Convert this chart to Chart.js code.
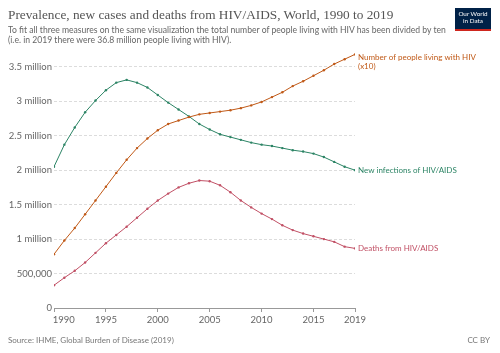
<!DOCTYPE html>
<html>
<head>
<meta charset="utf-8">
<script src="https://cdn.jsdelivr.net/npm/chart.js@4/dist/chart.umd.min.js"></script>
<style>
  html, body { margin: 0; padding: 0; background: #fff; }
  #wrap { position: relative; width: 500px; height: 353px; overflow: hidden; }
  #chart { position: absolute; left: 0; top: 0; }
  .title { position: absolute; left: 8px; top: 7px; font-family: "Liberation Serif", serif; font-size: 13.3px; color: #555; white-space: nowrap; }
  .sub { position: absolute; left: 8px; top: 24.5px; font-family: Lato, sans-serif; font-size: 8.6px; line-height: 10.5px; color: #666; white-space: nowrap; }
  .logo { position: absolute; left: 455px; top: 8px; width: 36px; height: 19px; background: #002147; border-bottom: 2px solid #ce261e; color: #fff; font-family: Lato, sans-serif; font-size: 6.3px; line-height: 7px; text-align: center; padding-top: 2px; box-sizing: content-box; }
  .foot { position: absolute; top: 335px; font-family: Lato, sans-serif; font-size: 8px; color: #777; }
</style>
</head>
<body>
<div id="wrap">
  <canvas id="chart" width="500" height="353"></canvas>
  <div class="title">Prevalence, new cases and deaths from HIV/AIDS, World, 1990 to 2019</div>
  <div class="sub">To fit all three measures on the same visualization the total number of people living with HIV has been divided by ten<br>(i.e. in 2019 there were 36.8 million people living with HIV).</div>
  <div class="logo">Our World<br>in Data</div>
  <div class="foot" style="left:8px">Source: IHME, Global Burden of Disease (2019)</div>
  <div class="foot" style="right:10px">CC BY</div>
</div>
<script>
let years = [1990, 1991, 1992, 1993, 1994, 1995, 1996, 1997, 1998, 1999,
             2000, 2001, 2002, 2003, 2004, 2005, 2006, 2007, 2008, 2009,
             2010, 2011, 2012, 2013, 2014, 2015, 2016, 2017, 2018, 2019];

// people living with HIV, divided by ten
let livingWithHiv = [780000, 980000, 1160000, 1360000, 1560000, 1760000, 1960000, 2150000, 2320000, 2460000,
                     2580000, 2670000, 2720000, 2770000, 2810000, 2830000, 2850000, 2870000, 2900000, 2940000,
                     2990000, 3060000, 3130000, 3220000, 3290000, 3370000, 3450000, 3540000, 3610000, 3680000];

let newInfections = [2050000, 2370000, 2620000, 2840000, 3010000, 3160000, 3270000, 3310000, 3270000, 3200000,
                     3090000, 2980000, 2880000, 2780000, 2670000, 2590000, 2520000, 2480000, 2440000, 2400000,
                     2370000, 2350000, 2320000, 2290000, 2270000, 2240000, 2190000, 2120000, 2050000, 2000000];

let deaths = [330000, 440000, 540000, 660000, 800000, 940000, 1060000, 1180000, 1310000, 1440000,
              1560000, 1660000, 1750000, 1810000, 1850000, 1840000, 1780000, 1680000, 1560000, 1460000,
              1370000, 1290000, 1200000, 1130000, 1080000, 1040000, 1000000, 960000, 890000, 865000];

let seriesNames = [["Number of people living with HIV", "(x10)"], ["New infections of HIV/AIDS"], ["Deaths from HIV/AIDS"]];
let seriesColors = ["#c05917", "#2c8465", "#c15065"];

let xTicks = [1990, 1995, 2000, 2005, 2010, 2015, 2019];
let yTicks = [0, 500000, 1000000, 1500000, 2000000, 2500000, 3000000, 3500000];

const toPoints = (values) => values.map((v, i) => ({x: years[i], y: v}));

const formatY = (v) => {
    if (v === 0) return "0";
    if (v < 1000000) return v.toLocaleString("en-US");
    return (v / 1000000) + " million";
};

// labels at the end of each line
const endLabels = {
    id: "endLabels",
    afterDatasetsDraw(chart) {
        let ctx = chart.ctx;
        ctx.save();
        ctx.font = "8px Lato";
        ctx.textAlign = "left";
        chart.data.datasets.forEach((ds, i) => {
            let meta = chart.getDatasetMeta(i);
            let last = meta.data[meta.data.length - 1];
            let lines = seriesNames[i];
            ctx.fillStyle = seriesColors[i];
            let y = last.y;
            if (lines.length > 1) {
                ctx.textBaseline = "top";
                y = y - 0.5;
                lines.forEach((line, j) => ctx.fillText(line, last.x + 3, y + j * 9));
            } else {
                ctx.textBaseline = "middle";
                ctx.fillText(lines[0], last.x + 3, y + 0.5);
            }
        });
        ctx.restore();
    }
};

const makeDataset = (values, color) => ({
    data: toPoints(values),
    borderColor: color,
    backgroundColor: color,
    borderWidth: 1,
    pointRadius: 1.2,
    pointHoverRadius: 1.2,
    pointBorderWidth: 0,
    tension: 0
});

let chartElement = document.querySelector("#chart").getContext("2d");
new Chart(chartElement, {
    type: "line",
    data: {
        datasets: [
            makeDataset(livingWithHiv, seriesColors[0]),
            makeDataset(newInfections, seriesColors[1]),
            makeDataset(deaths, seriesColors[2])
        ]
    },
    options: {
        responsive: false,
        animation: false,
        devicePixelRatio: 1,
        layout: {padding: {top: 53, right: 145, bottom: 25, left: 0}},
        plugins: {legend: {display: false}, tooltip: {enabled: false}},
        scales: {
            x: {
                type: "linear",
                min: 1990,
                max: 2019,
                afterBuildTicks: (scale) => { scale.ticks = xTicks.map(v => ({value: v})); },
                afterFit: (scale) => { scale.height = 20; },
                grid: {drawOnChartArea: false, drawTicks: true, tickLength: 4, color: "#999"},
                border: {display: true, color: "#999", width: 1},
                ticks: {
                    autoSkip: false,
                    maxRotation: 0,
                    padding: 2,
                    color: "#666",
                    font: {family: "Lato", size: 9.5},
                    callback: (v) => v === 1990 ? "        1990" : String(v)
                }
            },
            y: {
                min: 0,
                max: 3700000,
                afterBuildTicks: (scale) => { scale.ticks = yTicks.map(v => ({value: v})); },
                afterFit: (scale) => { scale.width = 54; },
                grid: {
                    drawTicks: false,
                    color: (c) => c.tick && c.tick.value === 0 ? "rgba(0,0,0,0)" : "#dcdcdc"
                },
                border: {display: false, dash: [3, 2]},
                ticks: {
                    padding: 2,
                    color: "#666",
                    font: {family: "Lato", size: 9.5},
                    callback: (v) => formatY(v)
                }
            }
        }
    },
    plugins: [endLabels]
});
</script>
</body>
</html>
